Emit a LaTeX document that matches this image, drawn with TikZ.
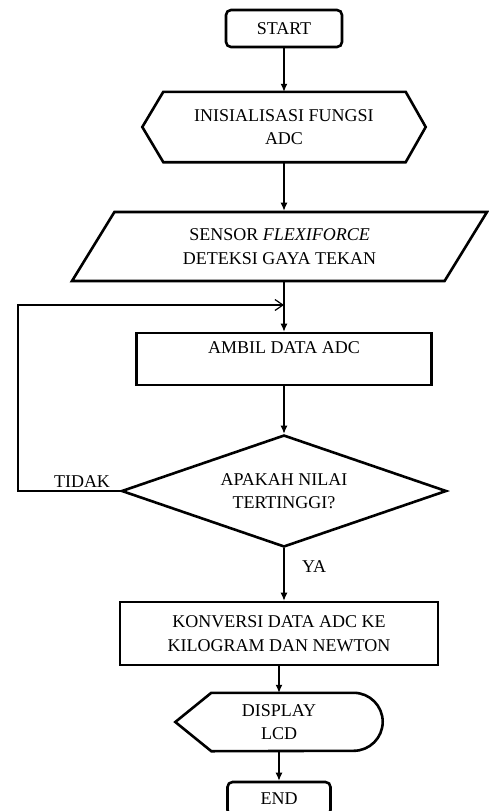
\documentclass[tikz,border=0pt]{standalone}
\usepackage{fontspec}
\setmainfont{Liberation Serif}
\usetikzlibrary{shapes.geometric,arrows.meta,positioning}
\tikzstyle{startstop} = [rectangle, rounded corners=5pt, text centered, draw=black, line width=2.6pt, inner sep=0pt]
\tikzstyle{io} = [trapezium, trapezium left angle=40, trapezium right angle=140, trapezium stretches body, minimum width=415, minimum height=69, align=center, draw=black, line width=2.6pt, inner sep=0pt]
\tikzstyle{process} = [rectangle, align=center, draw=black, line width=2.6pt, inner sep=0pt]
\tikzstyle{decision} = [diamond, aspect=2.9, minimum width=325, minimum height=112, align=center, draw=black, line width=2.6pt, inner sep=0pt]
\tikzstyle{textbox} = [rectangle, align=center, inner sep=0pt]
\tikzstyle{border} = [draw=black, line width=2.6pt, line join=miter]
\tikzstyle{lbl} = [inner sep=0pt]
\tikzstyle{arrow} = [line width=1.2pt,-{Latex[length=8pt,width=7pt]}]
\tikzstyle{looparrow} = [line width=1.2pt,-{Straight Barb[length=8pt,width=11pt,line width=1.2pt]}]

\begin{document}
\begin{tikzpicture}[x=1pt, y=-1pt, font=\fontsize{18}{23.5}\selectfont]
\useasboundingbox (0,0) rectangle (488,811);

\node (start)[startstop, minimum width=116, minimum height=37] at (284,28.5) {START};
\node (init)[textbox, minimum width=283, minimum height=70] at (284,127) {INISIALISASI FUNGSI\\ADC};
\draw [border] (init.west) -- ([xshift=21pt]init.north west) -- ([xshift=-20pt]init.north east) -- (init.east)
  -- ([xshift=-20pt]init.south east) -- ([xshift=21pt]init.south west) -- cycle;
\node (sensor)[io] at (279.5,246.5) {SENSOR \textit{FLEXIFORCE}\\DETEKSI GAYA TEKAN};
\node (ambil)[process, minimum width=295, minimum height=52] at (284,359) {AMBIL DATA ADC\\~};
\node (cek)[decision] at (284,491) {APAKAH NILAI\\TERTINGGI?};
\node (konversi)[process, minimum width=318, minimum height=63] at (279,633.5) {KONVERSI DATA ADC KE\\KILOGRAM DAN NEWTON};
\node (display)[textbox, minimum width=207, minimum height=58] at (279,722) {DISPLAY\\LCD};
\draw [border] (display.west) -- ([xshift=36pt]display.north west) -- ([xshift=-29pt]display.north east)
  arc[start angle=90, end angle=-90, radius=29pt] -- ([xshift=36pt]display.south west) -- cycle;
\node (end)[startstop, minimum width=103, minimum height=33] at (279,798.5) {END};

\coordinate (loopturn) at (18,305);

\draw [arrow](start) -- (init);
\draw [arrow](init.south) -- (init.south |- sensor.north);
\draw [arrow](ambil.north |- sensor.south) -- (ambil.north);
\draw [looparrow](cek.west) -| (loopturn) -- (loopturn -| ambil.north);
\draw [arrow](ambil) -- (cek);
\draw [arrow](cek.south) -- (cek.south |- konversi.north);
\draw [arrow](konversi) -- (display);
\draw [arrow](display) -- (end);

\node [lbl, above left=3pt and 10pt of cek.west] {TIDAK};
\node [lbl, below right=12pt and 18pt of cek.south] {YA};
\end{tikzpicture}
\end{document}
